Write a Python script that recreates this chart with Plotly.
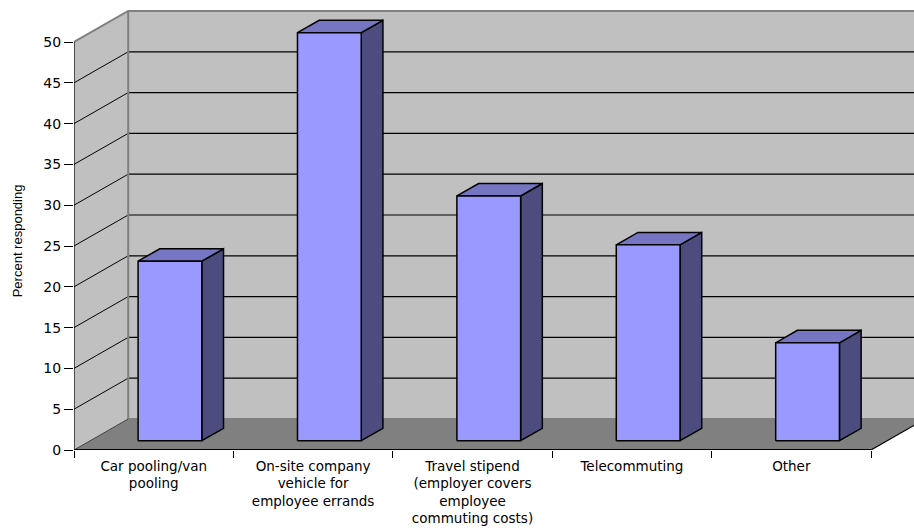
import plotly.graph_objects as go

# Survey results: commuting benefits offered
categories = [
    "Car pooling/van<br>pooling",
    "On-site company<br>vehicle for<br>employee errands",
    "Travel stipend<br>(employer covers<br>employee<br>commuting costs)",
    "Telecommuting",
    "Other",
]
percent = [22, 50, 30, 24, 12]
y_ticks = [0, 5, 10, 15, 20, 25, 30, 35, 40, 45, 50]
y_title = "Percent responding"

# Oblique projection used to fake the 3-D box (depth vector in axis units)
DEPTH_X = 0.34
DEPTH_Y = 3.8
BAR_LO, BAR_HI = 0.3, 0.7      # bar share of each slot, in width and in depth
WALL_TOP = y_ticks[-1]
N = len(categories)

FRONT = "#9999FF"
TOP = "#7575C2"
SIDE = "#4C4C7F"
WALL = "#C0C0C0"
FLOOR = "#808080"


def proj(x, y, d):
    return x + d * DEPTH_X, y + d * DEPTH_Y


def poly(points):
    xs, ys = [], []
    for x, y, d in points:
        px, py = proj(x, y, d)
        xs.append(px)
        ys.append(py)
    return xs, ys


def segments(seg_list):
    xs, ys = [], []
    for seg in seg_list:
        sx, sy = poly(seg)
        xs += sx + [None]
        ys += sy + [None]
    return xs, ys


fig = go.Figure()


def add_fill(points_list, color, line_color, line_width):
    xs, ys = [], []
    for pts in points_list:
        sx, sy = poly(pts + [pts[0]])
        xs += sx + [None]
        ys += sy + [None]
    fig.add_trace(go.Scatter(
        x=xs, y=ys, mode="lines", fill="toself", fillcolor=color,
        line=dict(color=line_color, width=line_width),
        hoverinfo="skip", showlegend=False,
    ))


def add_lines(seg_list, color, width):
    xs, ys = segments(seg_list)
    fig.add_trace(go.Scatter(
        x=xs, y=ys, mode="lines", line=dict(color=color, width=width),
        hoverinfo="skip", showlegend=False,
    ))


# walls and floor
add_fill([[(0, 0, 1), (N, 0, 1), (N, WALL_TOP, 1), (0, WALL_TOP, 1)]], WALL, WALL, 0)
add_fill([[(0, 0, 0), (0, WALL_TOP, 0), (0, WALL_TOP, 1), (0, 0, 1)]], WALL, WALL, 0)
add_fill([[(0, 0, 0), (N, 0, 0), (N, 0, 1), (0, 0, 1)]], FLOOR, FLOOR, 0)

# gridlines on the back wall and the side wall
grid_vals = [v for v in y_ticks if 0 < v < WALL_TOP]
add_lines([[(0, v, 1), (N, v, 1)] for v in grid_vals], "#000000", 1.2)
add_lines([[(0, v, 0), (0, v, 1)] for v in grid_vals], "#000000", 1)

# wall borders
add_lines([[(0, WALL_TOP, 0), (0, WALL_TOP, 1), (N, WALL_TOP, 1)],
           [(0, 0, 1), (0, WALL_TOP, 1)],
           [(0, 0, 1), (N, 0, 1)]], "#808080", 2)
add_lines([[(0, 0, 0), (0, 0, 1)]], "#404040", 1)
add_lines([[(N, 0, 0), (N, 0, 1)]], "#000000", 1.2)

# bars: front, top and side faces
fronts, tops, sides = [], [], []
for i, v in enumerate(percent):
    x0, x1 = i + BAR_LO, i + BAR_HI
    fronts.append([(x0, 0, BAR_LO), (x1, 0, BAR_LO), (x1, v, BAR_LO), (x0, v, BAR_LO)])
    tops.append([(x0, v, BAR_LO), (x1, v, BAR_LO), (x1, v, BAR_HI), (x0, v, BAR_HI)])
    sides.append([(x1, 0, BAR_LO), (x1, 0, BAR_HI), (x1, v, BAR_HI), (x1, v, BAR_LO)])
add_fill(sides, SIDE, "#000000", 1.5)
add_fill(tops, TOP, "#000000", 1.5)
add_fill(fronts, FRONT, "#000000", 1.5)

# front axis lines
add_lines([[(0, 0, 0), (N, 0, 0)]], "#000000", 2)
add_lines([[(0, 0, 0), (0, WALL_TOP, 0)]], "#000000", 1.2)

PX_PER_X = 159.4
PX_PER_Y = 8.16
L, R, T, B = 74, 0, 10, 79
W, H = 914, 529

fig.update_layout(
    width=W, height=H,
    margin=dict(l=L, r=R, t=T, b=B, pad=0),
    paper_bgcolor="white", plot_bgcolor="white",
    showlegend=False,
    font=dict(family="DejaVu Sans", color="black"),
    xaxis=dict(
        range=[0, (W - L - R) / PX_PER_X],
        tickmode="array",
        tickvals=[i + 0.5 for i in range(N)],
        ticktext=categories,
        ticks="",
        tickfont=dict(family="DejaVu Sans", size=13.5, color="black"),
        ticklabelstandoff=6,
        minor=dict(tickmode="array", tickvals=list(range(N + 1)),
                   ticks="outside", ticklen=7, tickwidth=1, tickcolor="black"),
        showgrid=False, zeroline=False, showline=False,
        fixedrange=True, automargin=False,
    ),
    yaxis=dict(
        range=[0, (H - T - B) / PX_PER_Y],
        tickmode="array",
        tickvals=y_ticks,
        ticks="outside", ticklen=9, tickwidth=1, tickcolor="black",
        tickfont=dict(family="DejaVu Sans", size=14, color="black"),
        showgrid=False, zeroline=False, showline=False,
        fixedrange=True, automargin=False,
    ),
    annotations=[dict(
        text=y_title, textangle=-90,
        xref="paper", yref="paper",
        x=(17.8 - L) / (W - L - R), y=(H - B - 240.5) / (H - T - B),
        xanchor="center", yanchor="middle", showarrow=False,
        font=dict(family="Liberation Sans", size=13, color="black"),
    )],
)

fig.write_html("out.html")
